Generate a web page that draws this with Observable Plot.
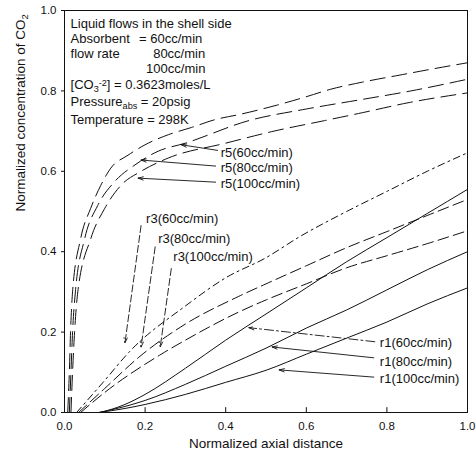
<!DOCTYPE html>
<html><head><meta charset="utf-8">
<script src="https://cdn.jsdelivr.net/npm/d3@7"></script>
<script src="https://cdn.jsdelivr.net/npm/@observablehq/plot@0.6"></script>
<style>body{margin:0;background:#fff}</style>
</head><body><div id="chart"></div>
<script>
// ---- data ----
const r5_60_x = [0.008, 0.012, 0.015, 0.02, 0.04, 0.065, 0.09, 0.115, 0.1575, 0.2, 0.2575, 0.315, 0.375, 0.4325, 0.525, 0.595, 0.66, 0.74, 0.83, 0.91, 1.0];
const r5_60_y = [0, 0.1, 0.2, 0.3, 0.432, 0.508, 0.565, 0.608, 0.64, 0.666, 0.691, 0.709, 0.729, 0.741, 0.764, 0.784, 0.804, 0.822, 0.839, 0.854, 0.87];
const r5_80_x = [0.012, 0.016, 0.02, 0.027, 0.05, 0.0825, 0.125, 0.175, 0.2325, 0.3, 0.457, 0.6, 0.74, 0.86, 1.0];
const r5_80_y = [0, 0.1, 0.2, 0.3, 0.432, 0.515, 0.575, 0.616, 0.65, 0.67, 0.726, 0.755, 0.779, 0.8, 0.829];
const r5_100_x = [0.016, 0.02, 0.025, 0.033, 0.065, 0.1, 0.14, 0.19, 0.2575, 0.4, 0.52, 0.645, 0.74, 0.855, 1.0];
const r5_100_y = [0, 0.1, 0.2, 0.3, 0.432, 0.508, 0.565, 0.6, 0.633, 0.67, 0.7, 0.726, 0.746, 0.771, 0.795];

const r3_60_x = [0.03, 0.1, 0.16, 0.3, 0.4, 0.5, 0.583, 0.7, 0.8, 0.9, 1.0];
const r3_60_y = [0, 0.08, 0.15, 0.265, 0.335, 0.385, 0.437, 0.5, 0.55, 0.6, 0.646];
const r3_80_x = [0.035, 0.1, 0.1875, 0.3, 0.4325, 0.5, 0.6, 0.7, 0.8, 0.9, 1.0];
const r3_80_y = [0, 0.06, 0.14, 0.22, 0.289, 0.32, 0.365, 0.41, 0.45, 0.49, 0.53];
const r3_100_x = [0.04, 0.1, 0.24, 0.3, 0.4325, 0.5, 0.6, 0.7, 0.8, 0.9, 1.0];
const r3_100_y = [0, 0.05, 0.145, 0.18, 0.25, 0.28, 0.32, 0.36, 0.39, 0.42, 0.452];

const r1_60_x = [0.09, 0.15, 0.2, 0.3, 0.4, 0.5, 0.6, 0.7, 0.8, 0.9, 1.0];
const r1_60_y = [0, 0.02, 0.045, 0.11, 0.18, 0.245, 0.31, 0.375, 0.435, 0.495, 0.555];
const r1_80_x = [0.085, 0.15, 0.2, 0.3, 0.4, 0.5, 0.6, 0.7, 0.8, 0.9, 1.0];
const r1_80_y = [0, 0.015, 0.03, 0.07, 0.115, 0.16, 0.21, 0.255, 0.305, 0.355, 0.40];
const r1_100_x = [0.085, 0.15, 0.2, 0.3, 0.4, 0.5, 0.6, 0.7, 0.8, 0.9, 1.0];
const r1_100_y = [0, 0.01, 0.02, 0.045, 0.075, 0.105, 0.145, 0.185, 0.225, 0.27, 0.31];

const xTicks = [0, 0.2, 0.4, 0.6, 0.8, 1.0];
const yTicks = [0, 0.2, 0.4, 0.6, 0.8, 1.0];

const seriesLabels = ["r5(60cc/min)", "r5(80cc/min)", "r5(100cc/min)",
                      "r3(60cc/min)", "r3(80cc/min)", "r3(100cc/min)",
                      "r1(60cc/min)", "r1(80cc/min)", "r1(100cc/min)"];

const infoLines = ["Liquid flows in the shell side", "Absorbent", "= 60cc/min", "flow rate", "80cc/min", "100cc/min",
                   "[CO_{3}^{-2}] = 0.3623moles/L", "Pressure_{abs} = 20psig", "Temperature = 298K"];
const xTitle = "Normalized axial distance";
const yTitle = "Normalized concentration of CO_{2}";

// annotation anchors (data units): label position, arrow start -> arrow tip
const labelX = [0.3875, 0.3875, 0.3875, 0.2025, 0.2325, 0.27, 0.7825, 0.7825, 0.7825];
const labelY = [0.646, 0.608, 0.570, 0.482, 0.431, 0.387, 0.173, 0.126, 0.083];
const arrowX1 = [0.38, 0.375, 0.375, 0.19, 0.225, 0.265, 0.77, 0.7675, 0.7675];
const arrowY1 = [0.652, 0.613, 0.573, 0.465, 0.412, 0.358, 0.176, 0.136, 0.088];
const arrowX2 = [0.29, 0.19, 0.1825, 0.15, 0.19, 0.2375, 0.4575, 0.515, 0.5325];
const arrowY2 = [0.666, 0.628, 0.583, 0.173, 0.163, 0.163, 0.211, 0.163, 0.106];

const infoX = [0.015, 0.015, 0.185, 0.015, 0.22, 0.2025, 0.015, 0.015, 0.015];
const infoY = [0.967, 0.93, 0.93, 0.892, 0.892, 0.855, 0.815, 0.772, 0.727];

// ---- build tables ----
const seriesXs = [r5_60_x, r5_80_x, r5_100_x, r3_60_x, r3_80_x, r3_100_x, r1_60_x, r1_80_x, r1_100_x];
const seriesYs = [r5_60_y, r5_80_y, r5_100_y, r3_60_y, r3_80_y, r3_100_y, r1_60_y, r1_80_y, r1_100_y];
const series = seriesLabels.map((name, i) => seriesXs[i].map((x, j) => ({name, x, y: seriesYs[i][j]})));
const dashOf = (name) => name.startsWith("r5") ? "15,7" : name === "r3(60cc/min)" ? "7,4,2,4" : name.startsWith("r3") ? "11,5" : null;

const labels = seriesLabels.map((t, i) => ({text: t, x: labelX[i], y: labelY[i]}));
const arrows = seriesLabels.map((t, i) => ({name: t, x1: arrowX1[i], y1: arrowY1[i], x2: arrowX2[i], y2: arrowY2[i]}));
const info = infoLines.map((t, i) => ({text: t, x: infoX[i], y: infoY[i]}));

const ink = "#111";
const lineMarks = series.map(s => Plot.line(s, {x: "x", y: "y", stroke: ink, strokeWidth: 1,
  strokeDasharray: dashOf(s[0].name), curve: "monotone-x"}));

const arrowOpts = {x1: "x1", y1: "y1", x2: "x2", y2: "y2", stroke: ink, strokeWidth: 0.9, headLength: 9, headAngle: 35};
const solidArrows = arrows.filter(a => a.name.startsWith("r5") || a.name === "r1(80cc/min)" || a.name === "r1(100cc/min)");
const dashArrows = arrows.filter(a => a.name.startsWith("r3"));
const dashDotArrows = arrows.filter(a => a.name === "r1(60cc/min)");

const plot = Plot.plot({
  width: 476, height: 462,
  marginLeft: 64, marginRight: 9, marginTop: 10, marginBottom: 50,
  x: {domain: [0, 1]},
  y: {domain: [0, 1]},
  style: {fontFamily: "'Liberation Sans', Arial, sans-serif", fontSize: "11px", color: ink, background: "#fff", overflow: "visible"},
  marks: [
    Plot.frame({stroke: ink, strokeWidth: 1}),
    Plot.axisX(xTicks, {tickSize: 0, tickPadding: 9, tickFormat: d3.format(".1f"), label: null, fontSize: 11.5}),
    Plot.ruleX(xTicks.slice(1, -1), {y1: 0, y2: 0.012, stroke: ink}),
    Plot.axisY(yTicks, {tickSize: 3, tickPadding: 5, tickFormat: d3.format(".1f"), label: null, fontSize: 11.5}),
    ...lineMarks,
    Plot.arrow(solidArrows, arrowOpts),
    Plot.arrow(dashArrows, {...arrowOpts, strokeDasharray: "7,3"}),
    Plot.arrow(dashDotArrows, {...arrowOpts, strokeDasharray: "9,3,2,3"}),
    Plot.text(labels, {x: "x", y: "y", text: "text", textAnchor: "start", fontSize: 13, fill: ink}),
    Plot.text(info, {x: "x", y: "y", text: "text", textAnchor: "start", fontSize: 13, fill: ink}),
    Plot.text([xTitle], {frameAnchor: "bottom", dy: 35, fontSize: 13.5, fill: ink}),
    Plot.text([yTitle], {frameAnchor: "left", dx: -44, rotate: -90, fontSize: 13.5, fill: ink})
  ]
});

// rich text: _{sub} and ^{sup}
d3.select(plot).selectAll("text").each(function () {
  const t = this.textContent;
  if (!/[_^]\{/.test(t)) return;
  const el = d3.select(this);
  el.text(null);
  const re = /([_^])\{([^}]*)\}/g;
  let last = 0, m;
  while ((m = re.exec(t))) {
    if (m.index > last) el.append("tspan").text(t.slice(last, m.index));
    el.append("tspan").attr("baseline-shift", m[1] === "_" ? "-28%" : "38%").attr("font-size", "70%").text(m[2]);
    last = re.lastIndex;
  }
  if (last < t.length) el.append("tspan").text(t.slice(last));
});

document.getElementById("chart").appendChild(plot);
</script>
</body></html>
